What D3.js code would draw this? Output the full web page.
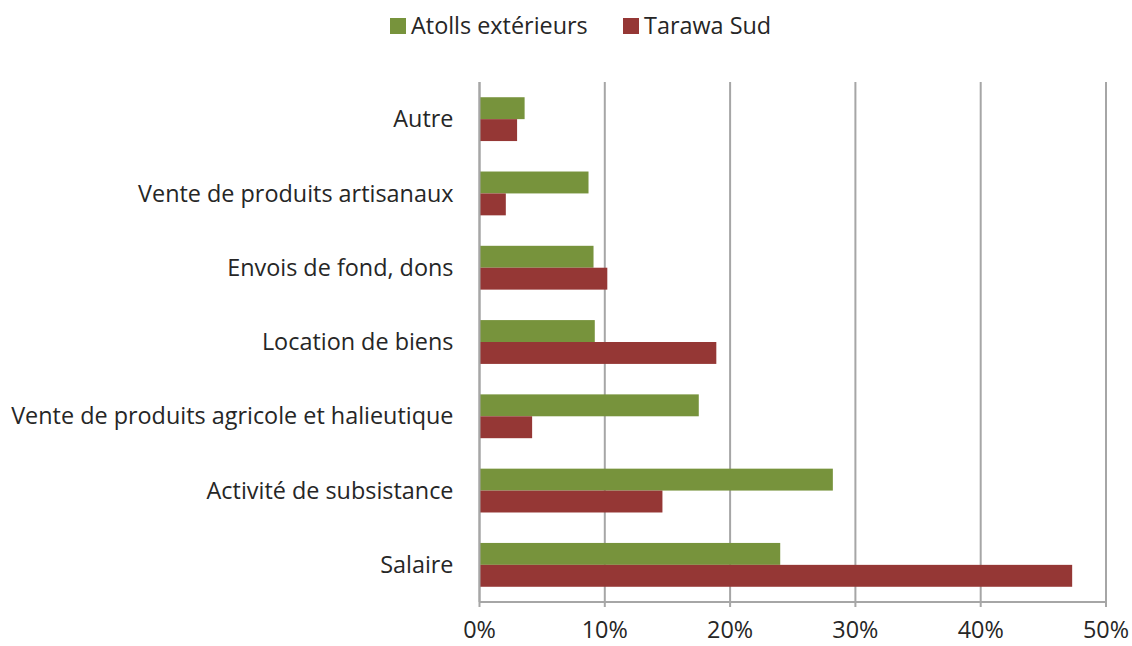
<!DOCTYPE html>
<html>
<head>
<meta charset="utf-8">
<script src="https://cdn.jsdelivr.net/npm/d3@7"></script>
<style>
  body { margin: 0; background: #fff; }
  svg text { font-family: "Open Sans", Lato, sans-serif; fill: #262626; }
</style>
</head>
<body>
<svg id="chart" width="1132" height="646"></svg>
<script>
// Income sources by area (share of households, %)
const categories = [
  "Autre",
  "Vente de produits artisanaux",
  "Envois de fond, dons",
  "Location de biens",
  "Vente de produits agricole et halieutique",
  "Activité de subsistance",
  "Salaire"
];
const seriesNames = ["Atolls extérieurs", "Tarawa Sud"];
const atollsExterieurs = [3.6, 8.7, 9.1, 9.2, 17.5, 28.2, 24.0];
const tarawaSud = [3.0, 2.1, 10.2, 18.9, 4.2, 14.6, 47.3];
const tickValues = [0, 10, 20, 30, 40, 50];
const colors = ["#77933C", "#953735"];

const svg = d3.select("#chart");
const margin = { top: 82, right: 26, bottom: 44, left: 479.5 };
const width = 1132 - margin.left - margin.right;
const height = 646 - margin.top - margin.bottom;
const fontSize = 23.4;

const x = d3.scaleLinear().domain([0, 50]).range([0, width]);
const y = d3.scaleBand().domain(categories).range([0, height]).paddingInner(0.41).paddingOuter(0.205);
const ySub = d3.scaleBand().domain(seriesNames).range([0, y.bandwidth()]);

const g = svg.append("g").attr("transform", `translate(${margin.left},${margin.top})`);

// vertical gridlines (extend slightly below the axis as tick marks)
g.append("g")
  .selectAll("line")
  .data(tickValues)
  .join("line")
  .attr("x1", d => x(d)).attr("x2", d => x(d))
  .attr("y1", 0).attr("y2", height + 5)
  .attr("stroke", "#a6a6a6").attr("stroke-width", 2);

// bars
const rows = categories.map((c, i) => ({ c, vals: [atollsExterieurs[i], tarawaSud[i]] }));
const grp = g.append("g").selectAll("g")
  .data(rows)
  .join("g")
  .attr("transform", d => `translate(0,${y(d.c)})`);
grp.selectAll("rect")
  .data(d => d.vals.map((v, j) => ({ v, s: seriesNames[j], j })))
  .join("rect")
  .attr("x", 0)
  .attr("y", d => ySub(d.s))
  .attr("width", d => x(d.v))
  .attr("height", ySub.bandwidth())
  .attr("fill", d => colors[d.j]);

// axis lines
g.append("line").attr("x1", 0).attr("x2", width).attr("y1", height).attr("y2", height)
  .attr("stroke", "#a6a6a6").attr("stroke-width", 2);
g.append("line").attr("x1", x(0)).attr("x2", x(0)).attr("y1", 0).attr("y2", height)
  .attr("stroke", "#a6a6a6").attr("stroke-width", 2);

// x tick labels
g.append("g").selectAll("text")
  .data(tickValues)
  .join("text")
  .attr("x", d => x(d))
  .attr("y", height + 36)
  .attr("text-anchor", "middle")
  .attr("font-size", fontSize)
  .text(d => d + "%");

// category labels
g.append("g").selectAll("text")
  .data(categories)
  .join("text")
  .attr("x", -26)
  .attr("y", d => y(d) + y.bandwidth() / 2)
  .attr("dy", "0.35em")
  .attr("text-anchor", "end")
  .attr("font-size", fontSize)
  .text(d => d);

// legend
const legend = svg.append("g");
const legendItems = [{ name: seriesNames[0], x: 390 }, { name: seriesNames[1], x: 623 }];
legendItems.forEach((it, i) => {
  legend.append("rect").attr("x", it.x).attr("y", 18).attr("width", 16).attr("height", 16).attr("fill", colors[i]);
  legend.append("text").attr("x", it.x + 21).attr("y", 26).attr("dy", "0.35em")
    .attr("font-size", fontSize).text(it.name);
});
</script>
</body>
</html>
